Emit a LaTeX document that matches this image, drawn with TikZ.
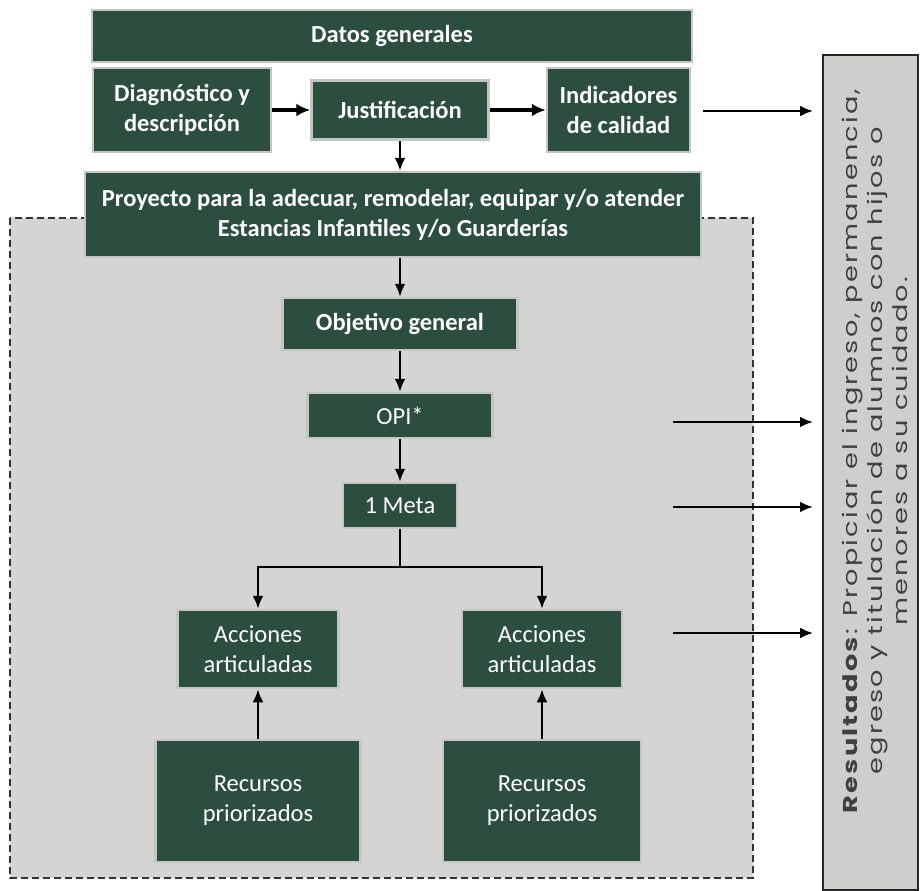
\documentclass[tikz,border=0pt]{standalone}
\usepackage{fontspec}
\setmainfont{Carlito}
\newfontfamily\resfont{Poppins}[LetterSpace=8]
\usetikzlibrary{arrows.meta,positioning}
\definecolor{boxgreen}{RGB}{44,78,62}
\definecolor{rim}{RGB}{196,198,194}
\definecolor{shade}{RGB}{212,212,210}
\definecolor{resgray}{RGB}{206,206,204}

\begin{document}
\begin{tikzpicture}[x=1pt,y=-1pt]
            \tikzstyle{box}=[draw=rim,line width=2.5pt,fill=boxgreen,text=white,align=center,inner sep=0pt,font=\fontsize{24.5}{30}\selectfont];
            \tikzstyle{bbox}=[box,font=\bfseries\fontsize{24.5}{30}\selectfont];
            \tikzstyle{arr}=[line width=2.8pt,-{Latex[length=13pt,width=11pt]}];
            \tikzstyle{warr}=[line width=4pt,-{Latex[length=14pt,width=13pt]}];
            \tikzstyle{rarr}=[line width=2.4pt,-{Latex[length=13pt,width=11pt]}];
            \useasboundingbox (0,0) rectangle (924,891);
            \path[fill=shade,draw=black!80,line width=1.2pt,dash pattern=on 7pt off 4pt] (10,218) rectangle (753,878);
            \node[bbox,minimum width=600,minimum height=52] (dg) at (392,36) {Datos generales};
            \node[bbox,minimum width=178,minimum height=84] (dd) at (182,110) {Diagnóstico y\\descripción};
            \node[bbox,minimum width=177,minimum height=59] (ju) at (400,110) {Justificación};
            \node[bbox,minimum width=143,minimum height=84] (ic) at (618.5,110) {Indicadores\\de calidad};
            \node[bbox,minimum width=616,minimum height=85] (pr) at (393,214.5) {Proyecto para la adecuar, remodelar, equipar y/o atender\\Estancias Infantiles y/o Guarderías};
            \node[bbox,minimum width=235,minimum height=52] (og) at (400,324) {Objetivo general};
            \node[box,minimum width=185,minimum height=45] (op) at (400,415.5) {OPI*};
            \node[box,minimum width=114,minimum height=45] (me) at (400,505.5) {1 Meta};
            \node[box,minimum width=161,minimum height=78] (a1) at (258,649) {Acciones\\articuladas};
            \node[box,minimum width=160,minimum height=78] (a2) at (542,649) {Acciones\\articuladas};
            \node[box,minimum width=205,minimum height=122] (r1) at (258,801) {Recursos\\priorizados};
            \node[box,minimum width=198,minimum height=122] (r2) at (542,801) {Recursos\\priorizados};
            \node[draw=black!85,line width=1.2pt,fill=resgray,minimum width=95,minimum height=835] (res) at (870.5,472.5) {};
            \node[rotate=90,xscale=1.36,text=black!75,align=center,font=\resfont\fontsize{20}{25}\selectfont] (rt) at (875,451) {\textbf{Resultados}: Propiciar el ingreso, permanencia,\\egreso y titulación de alumnos con hijos o\\menores a su cuidado.};
            \coordinate (br) at (400,567);
            \coordinate (s0) at (703,111);
            \coordinate (e0) at (813,111);
            \coordinate (s1) at (673,422);
            \coordinate (e1) at (813,422);
            \coordinate (s2) at (673,507);
            \coordinate (e2) at (813,507);
            \coordinate (s3) at (673,633);
            \coordinate (e3) at (813,633);
            \path[draw] [warr] (dd) -- (ju);
            \path[draw] [warr] (ju) -- (ic);
            \path[draw] [arr] (ju) -- (ju |- pr.north);
            \path[draw] [arr] (og |- pr.south) -- (og);
            \path[draw] [arr] (og) -- (op);
            \path[draw] [arr] (op) -- (me);
            \path[draw] [line width=2.8pt] (me) -- (br);
            \path[draw] [arr] (br) -| (a1);
            \path[draw] [arr] (br) -| (a2);
            \path[draw] [arr] (r1) -- (a1);
            \path[draw] [arr] (r2) -- (a2);
            \path[draw] [rarr] (s0) -- (e0);
            \path[draw] [rarr] (s1) -- (e1);
            \path[draw] [rarr] (s2) -- (e2);
            \path[draw] [rarr] (s3) -- (e3);
        \end{tikzpicture}
\end{document}
